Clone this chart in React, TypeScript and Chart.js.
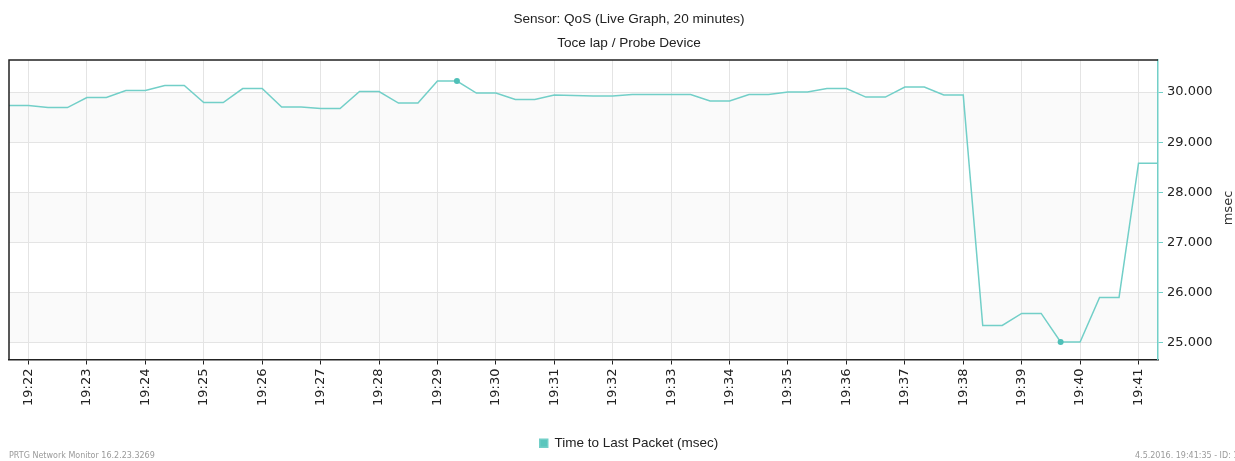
import { useEffect, useRef } from 'react';
import { Chart, registerables } from 'chart.js';

Chart.register(...registerables);

// ---- data ----
const TIMES: string[] = [
  '19:21:40', '19:22:00', '19:22:20', '19:22:40', '19:23:00', '19:23:20', '19:23:40', '19:24:00',
  '19:24:20', '19:24:40', '19:25:00', '19:25:20', '19:25:40', '19:26:00', '19:26:20', '19:26:40',
  '19:27:00', '19:27:20', '19:27:40', '19:28:00', '19:28:20', '19:28:40', '19:29:00', '19:29:20',
  '19:29:40', '19:30:00', '19:30:20', '19:30:40', '19:31:00', '19:31:20', '19:31:40', '19:32:00',
  '19:32:20', '19:32:40', '19:33:00', '19:33:20', '19:33:40', '19:34:00', '19:34:20', '19:34:40',
  '19:35:00', '19:35:20', '19:35:40', '19:36:00', '19:36:20', '19:36:40', '19:37:00', '19:37:20',
  '19:37:40', '19:38:00', '19:38:20', '19:38:40', '19:39:00', '19:39:20', '19:39:40', '19:40:00',
  '19:40:20', '19:40:40', '19:41:00', '19:41:20',
];

const TIME_TO_LAST_PACKET: number[] = [
  29.73, 29.73, 29.69, 29.69, 29.89, 29.89, 30.03, 30.03,
  30.13, 30.13, 29.79, 29.79, 30.07, 30.07, 29.70, 29.70,
  29.67, 29.67, 30.01, 30.01, 29.78, 29.78, 30.22, 30.22,
  29.98, 29.98, 29.85, 29.85, 29.94, 29.93, 29.92, 29.92,
  29.95, 29.95, 29.95, 29.95, 29.82, 29.82, 29.95, 29.95,
  30.00, 30.00, 30.07, 30.07, 29.90, 29.90, 30.10, 30.10,
  29.94, 29.94, 25.34, 25.34, 25.58, 25.58, 25.01, 25.01,
  25.90, 25.90, 28.58, 28.58,
];

// times at which the max / min markers are shown
const MARKER_TIMES: string[] = ['19:29:20', '19:39:40'];

const X_TICK_LABELS: string[] = [
  '19:22', '19:23', '19:24', '19:25', '19:26', '19:27', '19:28', '19:29', '19:30', '19:31',
  '19:32', '19:33', '19:34', '19:35', '19:36', '19:37', '19:38', '19:39', '19:40', '19:41',
];

const Y_TICK_VALUES: number[] = [25, 26, 27, 28, 29, 30];
const Y_MIN = 24.66;
const Y_MAX = 30.64;
const BANDS: number[][] = [[25, 26], [27, 28], [29, 30]];

const TITLE_LINES: string[] = ['Sensor: QoS (Live Graph, 20 minutes)', 'Toce lap / Probe Device'];
const SERIES_NAME = 'Time to Last Packet (msec)';
const Y_TITLE = 'msec';
const FOOTER_LEFT = 'PRTG Network Monitor 16.2.23.3269';
const FOOTER_RIGHT = '4.5.2016. 19:41:35 - ID: 1234';

const toSec = (t: string) => {
  const p = t.split(':').map(Number);
  return p[0] * 3600 + p[1] * 60 + (p[2] || 0);
};
const fmt = (sec: number) => {
  const h = Math.floor(sec / 3600);
  const m = Math.floor((sec % 3600) / 60);
  return `${h}:${String(m).padStart(2, '0')}`;
};

const LINE_COLOR = '#72cfc8';
const POINT_COLOR = '#4fc0b8';
const AXIS_FONT = { family: '"DejaVu Sans", sans-serif', size: 13 };

export default function App() {
  const ref = useRef<HTMLCanvasElement | null>(null);

  useEffect(() => {
    document.body.style.margin = '0';
    document.body.style.overflow = 'hidden';
    const canvas = ref.current;
    if (!canvas) return;

    const points = TIMES.map((t, i) => ({ x: toSec(t), y: TIME_TO_LAST_PACKET[i] }));
    const markerIdx = MARKER_TIMES.map((t) => TIMES.indexOf(t));

    const bandsPlugin = {
      id: 'bands',
      afterLayout(chart: any) {
        // centre title and legend a little to the right, like the original
        const shift = 7;
        [chart.titleBlock, chart.legend].forEach((b: any) => {
          if (b) {
            b.left += shift;
            b.right += shift;
          }
        });
      },
      beforeDraw(chart: any) {
        const { ctx, chartArea, scales } = chart;
        ctx.save();
        ctx.fillStyle = '#ffffff';
        ctx.fillRect(0, 0, chart.width, chart.height);
        ctx.fillStyle = '#fafafa';
        BANDS.forEach(([a, b]) => {
          const y1 = scales.y.getPixelForValue(b);
          const y2 = scales.y.getPixelForValue(a);
          ctx.fillRect(chartArea.left, y1, chartArea.right - chartArea.left, y2 - y1);
        });
        ctx.restore();
      },
      afterDraw(chart: any) {
        const { ctx, chartArea } = chart;
        ctx.save();
        ctx.strokeStyle = '#222';
        ctx.lineWidth = 1.5;
        ctx.beginPath();
        ctx.moveTo(chartArea.left, chartArea.bottom);
        ctx.lineTo(chartArea.left, chartArea.top);
        ctx.lineTo(chartArea.right, chartArea.top);
        ctx.stroke();
        ctx.fillStyle = '#333';
        ctx.font = '13px "DejaVu Sans", sans-serif';
        ctx.textAlign = 'center';
        ctx.textBaseline = 'middle';
        ctx.translate(1229, 208);
        ctx.rotate(-Math.PI / 2);
        ctx.fillText(Y_TITLE, 0, 0);
        ctx.restore();
        ctx.save();
        ctx.fillStyle = '#9a9a9a';
        ctx.font = '8px "DejaVu Sans", sans-serif';
        ctx.textBaseline = 'middle';
        ctx.textAlign = 'left';
        ctx.fillText(FOOTER_LEFT, 9, 456);
        ctx.fillText(FOOTER_RIGHT, 1135, 456);
        ctx.restore();
      },
    };

    const chart = new Chart(canvas, {
      type: 'line',
      data: {
        datasets: [
          {
            label: SERIES_NAME,
            data: points,
            borderColor: LINE_COLOR,
            backgroundColor: '#5ac6bd',
            borderWidth: 1.5,
            tension: 0,
            pointRadius: (c: any) => (markerIdx.includes(c.dataIndex) ? 3 : 0),
            pointBackgroundColor: POINT_COLOR,
            pointBorderColor: POINT_COLOR,
            pointBorderWidth: 0,
            fill: false,
          },
        ],
      },
      options: {
        animation: false,
        responsive: false,
        maintainAspectRatio: false,
        layout: { padding: { left: 9, right: 0, top: 0, bottom: 1 } },
        plugins: {
          title: {
            display: true,
            text: TITLE_LINES,
            color: '#222',
            font: { family: '"Liberation Sans", sans-serif', size: 13.6, weight: 'normal', lineHeight: 1.765 },
            padding: { top: 7, bottom: 5 },
          },
          legend: {
            display: true,
            position: 'bottom',
            labels: {
              color: '#222',
              font: { family: '"Liberation Sans", sans-serif', size: 13.5 },
              boxWidth: 8,
              boxHeight: 8,
              padding: 10,
            },
          },
          tooltip: { enabled: false },
        },
        scales: {
          x: {
            type: 'linear',
            min: toSec(TIMES[0]),
            max: toSec(TIMES[TIMES.length - 1]),
            afterBuildTicks: (s: any) => {
              s.ticks = X_TICK_LABELS.map((l) => ({ value: toSec(l) }));
            },
            afterFit: (s: any) => {
              s.height = 67;
            },
            ticks: {
              autoSkip: false,
              maxRotation: 90,
              minRotation: 90,
              padding: 4,
              color: '#222',
              font: AXIS_FONT,
              callback: (v: any) => fmt(Number(v)),
            },
            grid: { color: '#e4e4e4', tickColor: '#222', tickLength: 5, lineWidth: 1 },
            border: { color: '#222', width: 1.5 },
          },
          y: {
            type: 'linear',
            position: 'right',
            min: Y_MIN,
            max: Y_MAX,
            afterBuildTicks: (s: any) => {
              s.ticks = Y_TICK_VALUES.map((v) => ({ value: v }));
            },
            afterFit: (s: any) => {
              s.width = 77;
            },
            ticks: {
              padding: 4,
              color: '#222',
              font: AXIS_FONT,
              callback: (v: any) => Number(v).toFixed(3),
            },
            grid: { color: '#e4e4e4', tickColor: LINE_COLOR, tickLength: 5, lineWidth: 1 },
            border: { color: LINE_COLOR, width: 1.5 },
          },
        },
      },
      plugins: [bandsPlugin],
    } as any);

    return () => chart.destroy();
  }, []);

  return (
    <div style={{ width: 1235, height: 461 }}>
      <canvas ref={ref} width={1235} height={461} style={{ display: 'block' }} />
    </div>
  );
}
